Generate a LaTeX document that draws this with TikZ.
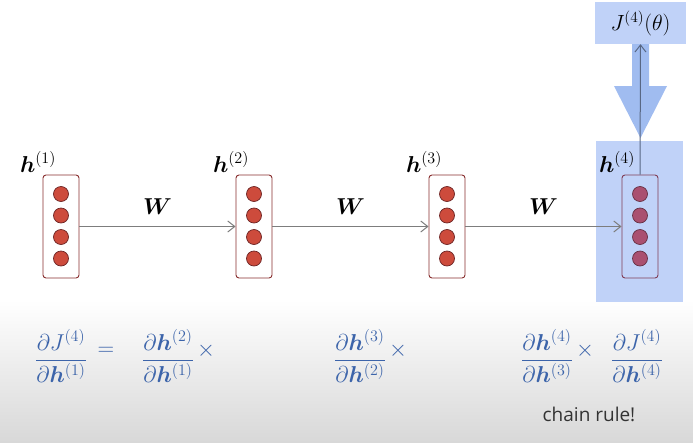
\RequirePackage{fix-cm}
\documentclass[tikz,border=0pt]{standalone}
\usepackage{amsmath}
\usepackage{bm}
\usepackage{fontspec}
\usetikzlibrary{arrows.meta}
\newfontfamily\notefont{Open Sans}
\definecolor{boxred}{RGB}{135,45,45}
\definecolor{dotred}{RGB}{205,75,60}
\definecolor{dotpurple}{RGB}{170,80,112}
\definecolor{hilite}{RGB}{192,210,248}
\definecolor{bigarrow}{RGB}{160,188,240}
\definecolor{mathblue}{RGB}{60,100,170}
\definecolor{linegray}{RGB}{125,125,125}
\definecolor{shade}{RGB}{216,216,216}
\begin{document}
\begin{tikzpicture}[x=1pt, y=-1pt,
		layer/.style={draw=boxred, line width=0.9pt, rounded corners=3pt, minimum width=36pt, minimum height=103pt, inner sep=0pt},
		unit/.style={circle, draw=boxred!80!black, fill=dotred, line width=0.7pt, minimum size=15pt, inner sep=0pt},
		hunit/.style={unit, draw=dotpurple!60!black, fill=dotpurple},
		hlabel/.style={font=\fontsize{23}{26}\selectfont, inner sep=0pt},
		wlabel/.style={font=\fontsize{23}{26}\selectfont, inner sep=0pt},
		link/.style={draw=linegray, line width=1pt, -{Straight Barb[length=7pt, width=11pt]}},
		frac/.style={font=\fontsize{23}{27}\selectfont, text=mathblue, inner sep=0pt},
	]
	\useasboundingbox (0,0) rectangle (693,442);
	% shaded strip at the bottom
	\shade[top color=white, bottom color=shade] (0,300) rectangle (693,442);
	\fill[hilite] (596,141) rectangle (683,302);

	\node[layer] (h1) at (61,226.5) {};
	\node[layer] (h2) at (254,226.5) {};
	\node[layer] (h3) at (447,226.5) {};
	\node[layer, draw=dotpurple!75!black] (h4) at (640,226.5) {};

	\foreach \n/\x/\s in {1/61/unit,2/254/unit,3/447/unit,4/640/hunit} {
		\foreach \y [count=\k] in {194,215.5,237,258.5} {
			\node[\s] (u\n\k) at (\x,\y) {};
		}
	}

	\node[hlabel] (l1) at (38,162) {$\bm{h}^{(1)}$};
	\node[hlabel] (l2) at (231,162) {$\bm{h}^{(2)}$};
	\node[hlabel] (l3) at (424,162) {$\bm{h}^{(3)}$};
	\node[hlabel] (l4) at (617,162) {$\bm{h}^{(4)}$};

	\draw[link] (h1) -- node[wlabel, above=12pt] (w1) {$\bm{W}$} (h2);
	\draw[link] (h2) -- node[wlabel, above=12pt] (w2) {$\bm{W}$} (h3);
	\draw[link] (h3) -- node[wlabel, above=12pt] (w3) {$\bm{W}$} (h4);

	% loss and gradient arrow
	\node[fill=hilite, minimum width=91pt, minimum height=42pt, inner sep=0pt, font=\fontsize{22}{26}\selectfont] (J) at (640.5,23) {$J^{(4)}(\theta)$};
	\fill[bigarrow] (632,44) -- (649,44) -- (649,86) -- (667,86) -- (640.5,138) -- (614,86) -- (632,86) -- cycle;
	\draw[draw=black!45!bigarrow, line width=1pt, -{Straight Barb[length=7pt, width=11pt]}] (h4.north) -- (J.south);

	% chain rule
	\node[frac] (f1) at (61,356) {$\dfrac{\partial J^{(4)}}{\partial \bm{h}^{(1)}}$};
	\node[frac] (eq) at (106,351) {$=$};
	\node[frac] (f2) at (168,356) {$\dfrac{\partial \bm{h}^{(2)}}{\partial \bm{h}^{(1)}}$};
	\node[frac] (x1) at (206,351) {$\times$};
	\node[frac] (f3) at (360,356) {$\dfrac{\partial \bm{h}^{(3)}}{\partial \bm{h}^{(2)}}$};
	\node[frac] (x2) at (398,351) {$\times$};
	\node[frac] (f4) at (547,356) {$\dfrac{\partial \bm{h}^{(4)}}{\partial \bm{h}^{(3)}}$};
	\node[frac] (x3) at (585,351) {$\times$};
	\node[frac] (f5) at (637,356) {$\dfrac{\partial J^{(4)}}{\partial \bm{h}^{(4)}}$};
	\node[font=\notefont\fontsize{19}{22}\selectfont, text=black!80] (cr) at (589,414) {chain rule!};
\end{tikzpicture}
\end{document}
